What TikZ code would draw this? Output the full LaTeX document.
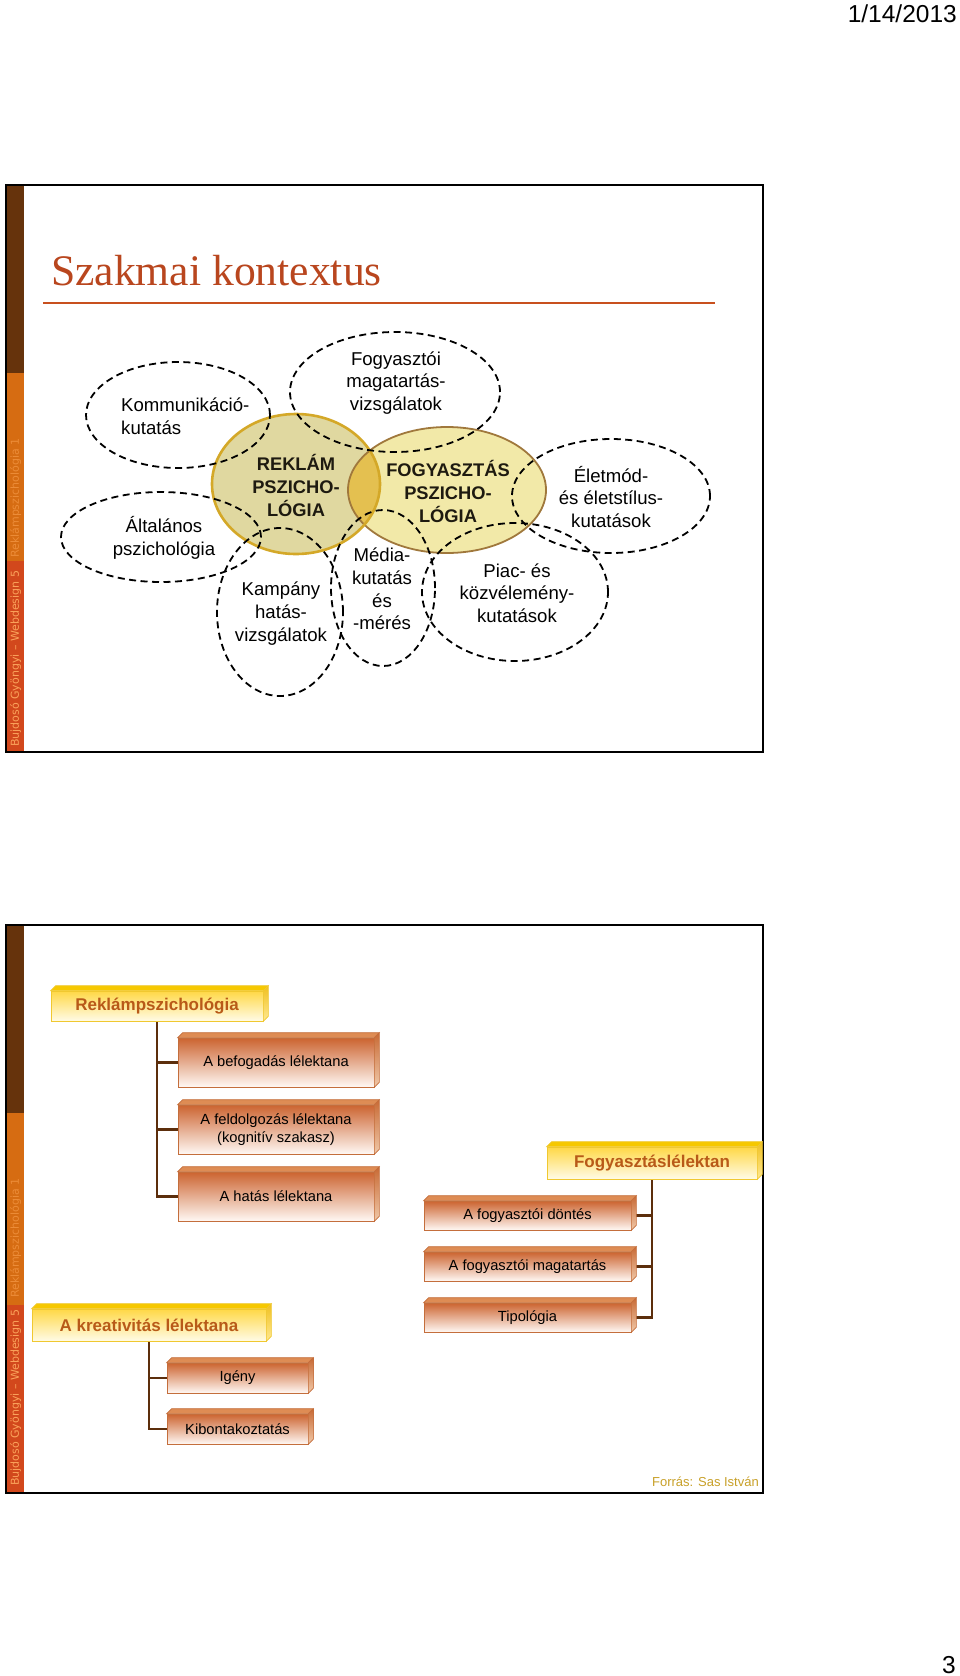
\documentclass[tikz,border=0pt]{standalone}
\usepackage{fontspec}
\setmainfont{Liberation Sans}
\newfontfamily\serifft{Liberation Serif}
\newfontfamily\dejavu{DejaVu Sans}
\usetikzlibrary{shapes.geometric,calc,backgrounds}
\pgfdeclarelayer{bgfill}
\pgfdeclarelayer{conn}
\pgfsetlayers{bgfill,conn,main}

\definecolor{barbrown}{RGB}{102,51,12}
\definecolor{barorange}{RGB}{214,108,18}
\definecolor{barred}{RGB}{210,72,28}
\definecolor{sidetxtA}{RGB}{250,162,90}
\definecolor{sidetxtB}{RGB}{236,140,56}
\definecolor{titlec}{RGB}{185,70,30}
\definecolor{rulec}{RGB}{200,80,30}
\definecolor{rekfill}{RGB}{224,216,160}
\definecolor{rekdraw}{RGB}{212,168,40}
\definecolor{fogfill}{RGB}{242,233,168}
\definecolor{fogdraw}{RGB}{160,120,60}
\definecolor{overlapc}{RGB}{228,192,80}
\definecolor{txtdark}{RGB}{30,26,16}
\definecolor{connc}{RGB}{92,46,12}
\definecolor{ytop}{RGB}{255,216,70}
\definecolor{ybev}{RGB}{246,200,0}
\definecolor{yside}{RGB}{240,192,32}
\definecolor{ysideb}{RGB}{255,232,144}
\definecolor{ybot}{RGB}{255,251,230}
\definecolor{ydraw}{RGB}{240,200,48}
\definecolor{ytxt}{RGB}{184,90,24}
\definecolor{otop}{RGB}{204,100,48}
\definecolor{omid}{RGB}{238,180,148}
\definecolor{obot}{RGB}{255,248,244}
\definecolor{obev}{RGB}{222,140,84}
\definecolor{oside}{RGB}{200,106,53}
\definecolor{osideb}{RGB}{240,200,168}
\definecolor{odraw}{RGB}{196,110,60}
\definecolor{forrasc}{RGB}{200,160,40}

\tikzset{
  dashell/.style={ellipse, draw=black, line width=1.8pt, dash pattern=on 7pt off 4.5pt, inner sep=0pt},
  etext/.style={font=\fontsize{18.6}{22.7}\selectfont, align=center, inner sep=0pt, text=black},
  btext/.style={font=\bfseries\fontsize{18.3}{23}\selectfont, align=center, inner sep=0pt, text=txtdark},
  yface/.style={rectangle, inner sep=0pt, draw=ydraw, line width=0.6pt,
    top color=ytop, bottom color=ybot, font=\bfseries\fontsize{17}{20}\selectfont, text=ytxt},
  oface/.style={rectangle, inner sep=0pt, draw=odraw, line width=0.6pt,
    top color=otop, middle color=omid, bottom color=obot, font=\fontsize{14.7}{17.5}\selectfont, text=black, align=center},
  conn/.style={draw=connc, line width=2.6pt},
  sidetext/.style={rotate=90, anchor=base west, inner sep=0pt, font=\dejavu\fontsize{11}{12}\selectfont},
}

\newcommand{\mybevel}[5]{%
  \filldraw[fill=#2, draw=#5, line width=0.6pt] (#1.north west) -- ++(5pt,5pt) -- ($(#1.north east)+(5pt,5pt)$) -- (#1.north east) -- cycle;
  \path[top color=#3, bottom color=#4, draw=#5, line width=0.6pt] (#1.north east) -- ++(5pt,5pt) -- ($(#1.south east)+(5pt,5pt)$) -- (#1.south east) -- cycle;
}

\begin{document}
\begin{tikzpicture}[x=1pt,y=-1pt]
\useasboundingbox (0,0) rectangle (960,1676);
\begin{pgfonlayer}{bgfill}
  \fill[white] (0,0) rectangle (960,1676);
\end{pgfonlayer}

% header / footer
\node[anchor=base east, inner sep=0pt, font=\fontsize{24.5}{26}\selectfont] (date) at (957,22) {1/14/2013};
\node[anchor=base east, inner sep=0pt, font=\fontsize{24.5}{26}\selectfont] (pagenum) at (956,1673) {3};

% ================= SLIDE 1 =================
\fill[barbrown] (6,186) rectangle (24,373);
\fill[barorange] (6,373) rectangle (24,561);
\fill[barred] (6,561) rectangle (24,752);
\node[sidetext, text=sidetxtA] (s1a) at (19,747) {Bujdosó Gyöngyi – Webdesign 5};
\node[sidetext, text=sidetxtB] (s1b) at (19,558) {Reklámpszichológia 1};
\draw[line width=2pt, black] (5.5,185) rectangle (763,752);

\node[anchor=base west, inner sep=0pt, font=\serifft\fontsize{43.6}{48}\selectfont, text=titlec] (title) at (51,285) {Szakmai kontextus};
\draw[rulec, line width=2pt] (43,303) -- (715,303);

% central circles
\node[ellipse, fill=rekfill, minimum width=168pt, minimum height=140pt, inner sep=0pt] (rekc) at (296,484) {};
\node[ellipse, fill=fogfill, minimum width=198pt, minimum height=126pt, inner sep=0pt] (fogc) at (447,490) {};
\begin{scope}
  \clip (296,484) ellipse [x radius=84pt, y radius=70pt];
  \fill[overlapc] (447,490) ellipse [x radius=99pt, y radius=63pt];
\end{scope}
\draw[fogdraw, line width=1.8pt] (447,490) ellipse [x radius=99pt, y radius=63pt];
\draw[rekdraw, line width=2.6pt] (296,484) ellipse [x radius=84pt, y radius=70pt];

% dashed ellipses
\node[dashell, minimum width=184pt, minimum height=106pt] (kom) at (178,415) {};
\node[dashell, minimum width=210pt, minimum height=120pt] (fogm) at (395,392) {};
\node[dashell, minimum width=198pt, minimum height=114pt] (elet) at (611,496) {};
\node[dashell, minimum width=200pt, minimum height=90pt] (alt) at (161,537) {};
\node[dashell, minimum width=126pt, minimum height=168pt] (kamp) at (280,612) {};
\node[dashell, minimum width=104pt, minimum height=156pt] (media) at (383,588) {};
\node[dashell, minimum width=186pt, minimum height=138pt] (piac) at (515,592) {};

% texts
\node[etext, align=left, anchor=west] (komt) at (121,416.5) {Kommunikáció-\\kutatás};
\node[etext] (fogmt) at (396,383) {Fogyasztói\\magatartás-\\vizsgálatok};
\node[btext] (rekt) at (296,485) {REKLÁM\\PSZICHO-\\LÓGIA};
\node[btext] (fogt) at (448,491) {FOGYASZTÁS\\PSZICHO-\\LÓGIA};
\node[etext] (elett) at (611,497) {Életmód-\\és életstílus-\\kutatások};
\node[etext] (altt) at (164,538) {Általános\\pszichológia};
\node[etext] (kampt) at (281,613.5) {Kampány\\hatás-\\vizsgálatok};
\node[etext] (mediat) at (382,589) {Média-\\kutatás\\és\\-mérés};
\node[etext] (piact) at (517,593) {Piac- és\\közvélemény-\\kutatások};

% ================= SLIDE 2 =================
\fill[barbrown] (6,925.5) rectangle (24,1113);
\fill[barorange] (6,1113) rectangle (24,1305);
\fill[barred] (6,1305) rectangle (24,1492);
\node[sidetext, text=sidetxtA] (s2a) at (19,1486) {Bujdosó Gyöngyi – Webdesign 5};
\node[sidetext, text=sidetxtB] (s2b) at (19,1298) {Reklámpszichológia 1};
\draw[line width=2pt, black] (5.5,924.5) rectangle (763,1492.5);

% box faces
\node[yface, minimum width=212pt, minimum height=30pt] (rp) at (157,1006) {Reklámpszichológia};
\node[yface, minimum width=210pt, minimum height=32pt] (fl) at (652,1163) {Fogyasztáslélektan};
\node[yface, minimum width=234pt, minimum height=32pt] (kl) at (149,1325) {A kreativitás lélektana};

\node[oface, minimum width=196pt, minimum height=49pt] (b1) at (276,1062.5) {A befogadás lélektana};
\node[oface, minimum width=196pt, minimum height=49pt] (b2) at (276,1129.5) {A feldolgozás lélektana\\(kognitív szakasz)};
\node[oface, minimum width=196pt, minimum height=49pt] (b3) at (276,1196.5) {A hatás lélektana};

\node[oface, minimum width=207pt, minimum height=29pt] (c1) at (527.5,1215.5) {A fogyasztói döntés};
\node[oface, minimum width=207pt, minimum height=29pt] (c2) at (527.5,1266.5) {A fogyasztói magatartás};
\node[oface, minimum width=207pt, minimum height=29pt] (c3) at (527.5,1317.5) {Tipológia};

\node[oface, minimum width=141pt, minimum height=30pt] (d1) at (237.5,1378) {Igény};
\node[oface, minimum width=141pt, minimum height=30pt] (d2) at (237.5,1429) {Kibontakoztatás};

% bevels
\mybevel{rp}{ybev}{yside}{ysideb}{ydraw}
\mybevel{fl}{ybev}{yside}{ysideb}{ydraw}
\mybevel{kl}{ybev}{yside}{ysideb}{ydraw}
\mybevel{b1}{obev}{oside}{osideb}{odraw}
\mybevel{b2}{obev}{oside}{osideb}{odraw}
\mybevel{b3}{obev}{oside}{osideb}{odraw}
\mybevel{c1}{obev}{oside}{osideb}{odraw}
\mybevel{c2}{obev}{oside}{osideb}{odraw}
\mybevel{c3}{obev}{oside}{osideb}{odraw}
\mybevel{d1}{obev}{oside}{osideb}{odraw}
\mybevel{d2}{obev}{oside}{osideb}{odraw}

% connectors
\begin{pgfonlayer}{conn}
  \draw[conn] (rp.south) |- (b1.west);
  \draw[conn] (rp.south) |- (b2.west);
  \draw[conn] (rp.south) |- (b3.west);
  \draw[conn] (fl.south) |- (c1.east);
  \draw[conn] (fl.south) |- (c2.east);
  \draw[conn] (fl.south) |- (c3.east);
  \draw[conn] (kl.south) |- (d1.west);
  \draw[conn] (kl.south) |- (d2.west);
\end{pgfonlayer}

\node[anchor=base east, inner sep=0pt, font=\fontsize{13}{15}\selectfont, text=forrasc] (forras) at (759,1486) {Forrás: Sas István};

\end{tikzpicture}
\end{document}
